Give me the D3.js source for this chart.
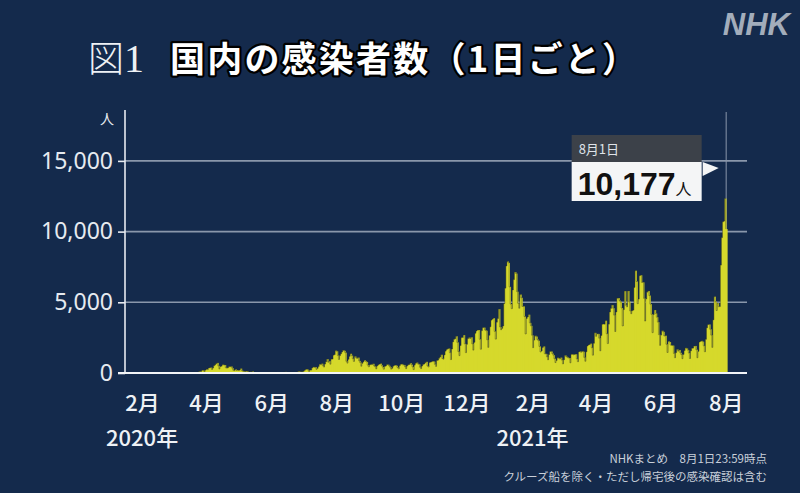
<!DOCTYPE html>
<html>
<head>
<meta charset="utf-8">
<script src="https://cdn.jsdelivr.net/npm/d3@7"></script>
<style>
  html, body { margin: 0; padding: 0; background: #142a4c; }
  svg { display: block; }
  text { font-family: "Noto Sans CJK JP", "Noto Sans", sans-serif; }
</style>
</head>
<body>
<div id="chart"></div>
<script>
// daily new cases, one array per month (first array starts on 2020-01-16)
var jan2020 = [1,0,0,0,0,0,0,1,0,0,1,0,1,2,3,1];
var feb2020 = [0,1,0,0,0,1,0,0,0,2,3,1,4,8,12,6,7,5,12,10,13,9,14,11,14,13,21,17,12];
var mar2020 = [10,14,18,33,32,60,47,34,25,50,54,51,61,64,37,15,40,45,38,42,59,30,38,40,93,96,112,200,173,87,207];
var apr2020 = [266,235,353,367,383,252,351,511,576,658,714,507,285,456,482,585,571,567,373,348,373,450,437,459,344,201,169,253,187,205];
var may2020 = [176,208,312,174,130,103,91,127,112,73,53,79,69,107,63,51,21,42,31,40,34,26,31,16,21,13,30,39,53,50,40];
var jun2020 = [35,49,51,41,37,48,34,26,39,34,41,49,55,76,44,36,48,43,63,38,56,39,31,55,48,105,93,62,86,54];
var jul2020 = [125,195,250,274,207,111,205,206,355,429,399,408,258,331,459,622,585,659,510,421,631,795,981,763,839,624,981,981,1264,1301,1580];
var aug2020 = [1536,1243,957,1232,1357,1485,1605,1568,1441,830,700,968,1177,1360,1226,1011,818,1171,1074,1033,1089,857,740,480,684,789,901,838,783,558,442];
var sep2020 = [578,597,595,650,501,441,292,505,581,631,662,541,422,270,468,495,590,586,511,416,275,337,482,540,558,510,390,297,518,615];
var oct2020 = [639,570,569,441,308,501,577,600,694,590,435,241,557,684,736,646,615,409,312,494,611,636,727,790,505,428,746,772,797,845,806];
var nov2020 = [613,466,888,912,1045,1137,1291,1025,979,1278,1546,1660,1706,1732,1438,951,1696,2201,2386,2425,2596,2168,1518,1228,1941,2503,2509,2683,2060,1442];
var dec2020 = [2030,2431,2505,2436,2525,2065,1620,2170,2810,2972,3041,3041,2388,1680,2996,3202,3211,3041,2992,2349,1814,2668,3269,3740,3812,3877,2944,2396,3593,3852,4520];
var jan2021 = [3257,3060,3157,3325,4914,6001,7570,7882,7790,6093,4875,4550,5870,6605,7133,7036,5755,4930,4582,5548,5320,4708,4709,3991,2760,3853,3962,4124,3547,3336,2673];
var feb2021 = [1792,2326,2631,2576,2370,2284,1880,1486,1560,1803,1880,1361,1351,1141,936,1307,1519,1519,1375,1263,1011,739,887,1078,1053,990,1087,916];
var mar2021 = [645,936,1243,1165,1120,1064,1063,720,1320,1313,1282,1321,1326,996,801,1488,1531,1467,1533,1502,1103,832,1499,1910,1982,2014,2077,1784,1259,2102,2839];
var apr2021 = [2594,2764,2765,2464,1570,2653,3451,3465,3448,3697,2777,2083,3455,4312,4570,4803,4585,4093,2935,4316,5288,5296,5123,5029,4600,3326,4481,5791,4790,4678];
var may2021 = [5800,5049,4389,4194,4406,4448,6052,7234,6471,4904,5228,6877,6915,6407,6411,5280,3675,5234,5718,5801,5476,4867,4151,2854,4135,4454,4211,3948,3599,2710,1955];
var jun2021 = [2681,2986,2913,2616,2637,2034,1452,2239,2195,1977,1943,1939,1384,1079,1440,1669,1546,1630,1430,1306,1014,1313,1588,1774,1731,1617,1412,1026,1568,1750];
var jul2021 = [1759,1904,1914,1649,1081,1530,2190,2240,2272,2213,1920,1503,2383,3194,3415,3434,3092,2680,1812,3759,5397,5043,4418,4942,4689,4698,7631,9576,10693,10743,12340];
var aug2021 = [10177];

var firstDay = "2020-01-16";
var yTicks = [0, 5000, 10000, 15000];
var monthTicks = ["2020-02-01","2020-04-01","2020-06-01","2020-08-01","2020-10-01","2020-12-01",
                  "2021-02-01","2021-04-01","2021-06-01","2021-08-01"];
var yearLabels = [["2020-02-01", "2020年"], ["2021-02-01", "2021年"]];

var title = "国内の感染者数（1日ごと）";
var calloutDate = "8月1日";
var calloutValue = "10,177";
var note1 = "NHKまとめ　8月1日23:59時点";
var note2 = "クルーズ船を除く・ただし帰宅後の感染確認は含む";

var width = 800, height = 493;
var parse = d3.timeParse("%Y-%m-%d");

var daily = [].concat(jan2020, feb2020, mar2020, apr2020, may2020, jun2020, jul2020, aug2020,
                      sep2020, oct2020, nov2020, dec2020, jan2021, feb2021, mar2021, apr2021,
                      may2021, jun2021, jul2021, aug2021);
var start = parse(firstDay);
var data = daily.map(function(v, i) { return {date: d3.timeDay.offset(start, i), value: v}; });
var last = data[data.length - 1];

var x = d3.scaleTime()
    .domain([start, parse("2021-08-21")])
    .range([125, 747]);

var y = d3.scaleLinear()
    .domain([0, 18600])
    .range([373, 110]);

var svg = d3.select("#chart").append("svg")
    .attr("width", width)
    .attr("height", height);

svg.append("rect").attr("width", width).attr("height", height).attr("fill", "#142a4c");

// NHK logo
svg.append("text")
    .attr("x", 790).attr("y", 35)
    .attr("text-anchor", "end")
    .style("font-family", "'Liberation Sans', sans-serif")
    .style("font-weight", "bold").style("font-style", "italic")
    .style("font-size", "31px")
    .attr("fill", "#a3adbb")
    .text("NHK");

// title
var t = svg.append("text").attr("x", 88).attr("y", 72);
t.append("tspan")
    .style("font-size", "36px").style("font-weight", 300)
    .attr("fill", "#eef1f5")
    .text("図");
t.append("tspan")
    .style("font-family", "'Liberation Serif', serif")
    .style("font-size", "40px")
    .attr("fill", "#eef1f5")
    .text("1");
svg.append("text")
    .attr("x", 170).attr("y", 72)
    .style("font-size", "35px").style("font-weight", "bold")
    .style("letter-spacing", "2.2px")
    .attr("fill", "#ffffff")
    .attr("stroke", "#000").attr("stroke-width", 4.5).attr("stroke-linejoin", "round")
    .style("paint-order", "stroke")
    .text(title);

// grid lines
svg.append("g")
    .selectAll("line")
    .data(yTicks.slice(1))
    .enter().append("line")
    .attr("x1", 125).attr("x2", 747)
    .attr("y1", function(d) { return y(d); })
    .attr("y2", function(d) { return y(d); })
    .attr("stroke", "#8a97ab").attr("stroke-width", 1.6);

// vertical marker for latest day
svg.append("line")
    .attr("x1", x(last.date) + 0.5).attr("x2", x(last.date) + 0.5)
    .attr("y1", 112).attr("y2", y(0))
    .attr("stroke", "#8a97ab").attr("stroke-width", 1);

// bars (overlapping slightly so no seams show between them)
var bw = x(d3.timeDay.offset(start, 1)) - x(start);
svg.append("g")
    .selectAll("rect")
    .data(data)
    .enter().append("rect")
    .attr("x", function(d) { return x(d.date); })
    .attr("y", function(d) { return y(d.value); })
    .attr("width", bw + 0.9)
    .attr("height", function(d) { return y(0) - y(d.value); })
    .attr("fill", "#d6d92c");

// dark rim on the spikes
var rim = d3.line()
    .x(function(d) { return x(d.date); })
    .y(function(d) { return y(d.value); })
    .curve(d3.curveStepAfter);
svg.append("path")
    .datum(data)
    .attr("d", rim)
    .attr("fill", "none")
    .attr("stroke", "#30331a")
    .attr("stroke-width", 0.7)
    .attr("opacity", 0.55);

// y axis
var yAxis = d3.axisLeft(y)
    .tickValues(yTicks)
    .tickFormat(d3.format(","))
    .tickSize(7)
    .tickPadding(5);
var ya = svg.append("g").attr("transform", "translate(125,0)").call(yAxis);
ya.select(".domain").remove();
ya.selectAll(".tick line").attr("stroke", "#e6eaf0").attr("stroke-width", 1.6);
ya.selectAll(".tick text")
    .attr("fill", "#e6eaf0")
    .style("font-family", "'Noto Sans', sans-serif")
    .style("font-size", "23px");

svg.append("line")
    .attr("x1", 125).attr("x2", 125)
    .attr("y1", 110).attr("y2", y(0))
    .attr("stroke", "#e6eaf0").attr("stroke-width", 1.6);

svg.append("text")
    .attr("x", 107).attr("y", 124)
    .attr("text-anchor", "middle")
    .style("font-size", "14px")
    .attr("fill", "#e6eaf0")
    .text("人");

// baseline
svg.append("line")
    .attr("x1", 118).attr("x2", 747)
    .attr("y1", y(0)).attr("y2", y(0))
    .attr("stroke", "#f2f4f7").attr("stroke-width", 2.2);

// x axis
var xAxis = d3.axisBottom(x)
    .tickValues(monthTicks.map(parse))
    .tickFormat(function(d) { return (d.getMonth() + 1) + "月"; })
    .tickSize(0)
    .tickPadding(22);
var xa = svg.append("g").attr("transform", "translate(0," + y(0) + ")").call(xAxis);
xa.select(".domain").remove();
xa.selectAll(".tick text")
    .attr("fill", "#eef1f5")
    .style("font-size", "22px")
    .style("font-weight", 500);

svg.append("g")
    .selectAll("text")
    .data(yearLabels)
    .enter().append("text")
    .attr("x", function(d) { return x(parse(d[0])); })
    .attr("y", 446)
    .attr("text-anchor", "middle")
    .attr("fill", "#eef1f5")
    .style("font-size", "22px")
    .style("font-weight", 500)
    .text(function(d) { return d[1]; });

// callout
var cx = x(last.date);
var boxR = cx - 24, boxL = boxR - 130;
svg.append("rect")
    .attr("x", boxL).attr("y", 135).attr("width", boxR - boxL).attr("height", 27)
    .attr("fill", "#3c4149");
svg.append("rect")
    .attr("x", boxL).attr("y", 162).attr("width", boxR - boxL).attr("height", 39)
    .attr("fill", "#f4f5f6");
svg.append("text")
    .attr("x", boxL + 7).attr("y", 154)
    .style("font-size", "13px")
    .attr("fill", "#dfe3e8")
    .text(calloutDate);
var ct = svg.append("text")
    .attr("x", boxL + 6).attr("y", 195)
    .attr("fill", "#111");
ct.append("tspan")
    .style("font-family", "'Liberation Sans', sans-serif")
    .style("font-size", "32px").style("font-weight", "bold")
    .text(calloutValue);
ct.append("tspan")
    .style("font-size", "16px")
    .text("人");
svg.append("path")
    .attr("d", d3.line()([[boxR + 1, 162], [boxR + 1, 176], [boxR + 17, 168]]) + "Z")
    .attr("fill", "#f4f5f6");

// notes
svg.append("text")
    .attr("x", 767).attr("y", 463)
    .attr("text-anchor", "end")
    .style("font-size", "11.5px")
    .attr("fill", "#c9d0da")
    .text(note1);
svg.append("text")
    .attr("x", 767).attr("y", 481)
    .attr("text-anchor", "end")
    .style("font-size", "11.5px")
    .attr("fill", "#c9d0da")
    .text(note2);
</script>
</body>
</html>
